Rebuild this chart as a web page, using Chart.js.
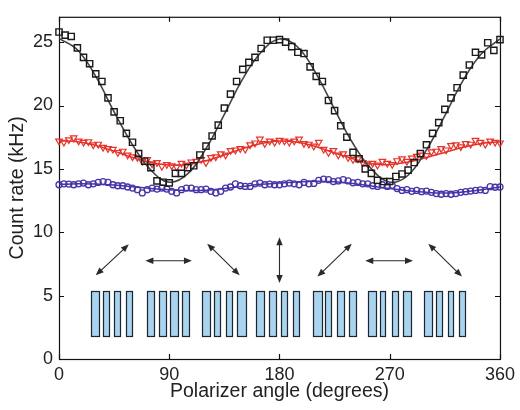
<!DOCTYPE html>
<html>
<head>
<meta charset="utf-8">
<title>Count rate vs polarizer angle</title>
<script src="https://cdn.jsdelivr.net/npm/chart.js@4.4.0/dist/chart.umd.min.js"></script>
<style>
  html, body { margin: 0; padding: 0; background: #fff; }
</style>
</head>
<body>
<canvas id="chart" width="520" height="410"></canvas>
<script>
// measured count rates, squares every 5 degrees
const blackAngles = [0, 5, 10, 15, 20, 25, 30, 35, 40, 45, 50, 55, 60, 65, 70, 75, 80, 85, 90,
  95, 100, 105, 110, 115, 120, 125, 130, 135, 140, 145, 150, 155, 160, 165, 170, 175, 180,
  185, 190, 195, 200, 205, 210, 215, 220, 225, 230, 235, 240, 245, 250, 255, 260, 265, 270,
  275, 280, 285, 290, 295, 300, 305, 310, 315, 320, 325, 330, 335, 340, 345, 350, 355, 360];
const blackRate = [25.8, 25.55, 25.45, 24.55, 23.8, 23.3, 22.5, 21.9, 20.6, 19.5, 18.8, 17.8, 17.1, 16.2, 15.6, 15.1, 14.05, 13.95, 13.9,
  14.65, 14.65, 15.1, 15.25, 16.1, 16.8, 17.6, 18.45, 19.8, 20.9, 21.9, 22.85, 23.4, 23.8, 24.5, 25.15, 25.15, 25.2,
  25.0, 24.65, 24.2, 24.1, 23.05, 22.3, 21.9, 20.4, 19.6, 18.4, 17.5, 16.3, 15.8, 15.0, 14.65, 14.1, 14.0, 14.0,
  14.4, 14.6, 14.9, 15.5, 16.2, 16.9, 17.8, 18.65, 19.7, 20.6, 21.4, 22.4, 23.2, 24.2, 24.0, 24.95, 24.35, 25.2];

// triangles and circles every 4 degrees
const fineAngles = [0, 4, 8, 12, 16, 20, 24, 28, 32, 36, 40, 44, 48, 52, 56, 60, 64, 68, 72, 76, 80, 84, 88,
  92, 96, 100, 104, 108, 112, 116, 120, 124, 128, 132, 136, 140, 144, 148, 152, 156, 160, 164, 168, 172, 176,
  180, 184, 188, 192, 196, 200, 204, 208, 212, 216, 220, 224, 228, 232, 236, 240, 244, 248, 252, 256, 260, 264, 268,
  272, 276, 280, 284, 288, 292, 296, 300, 304, 308, 312, 316, 320, 324, 328, 332, 336, 340, 344, 348, 352, 356, 360];
const redRate = [17.2, 17.1, 17.3, 17.45, 17.2, 17.1, 17.15, 16.9, 16.95, 16.7, 16.6, 16.55, 16.3, 16.4, 16.1, 15.95, 15.9, 15.6, 15.75, 15.4, 15.5, 15.2, 15.35,
  15.25, 15.15, 15.45, 15.3, 15.55, 15.6, 15.75, 15.5, 15.9, 15.95, 16.2, 16.1, 16.45, 16.5, 16.6, 16.55, 16.9, 17.05, 17.35, 17.0, 17.2, 17.1,
  17.25, 17.2, 17.1, 17.2, 17.35, 17.0, 16.95, 16.8, 17.1, 16.55, 16.3, 16.45, 16.1, 16.2, 15.9, 15.75, 15.8, 15.5, 15.4, 15.45, 15.3, 15.6, 15.45,
  15.35, 15.65, 15.8, 15.6, 15.85, 16.0, 16.1, 16.05, 16.35, 16.4, 16.6, 16.5, 16.85, 16.9, 16.75, 17.0, 16.95, 17.25, 17.1, 16.95, 17.2, 17.1, 17.05];
const blueRate = [13.75, 13.82, 13.8, 13.75, 13.82, 13.88, 13.75, 13.82, 13.93, 14.0, 13.93, 13.75, 13.67, 13.67, 13.57, 13.49, 13.36, 13.1, 13.36, 13.49, 13.41, 13.49, 13.41,
  13.23, 13.1, 13.36, 13.49, 13.49, 13.36, 13.36, 13.41, 13.23, 13.1, 13.23, 13.49, 13.57, 13.82, 13.67, 13.62, 13.62, 13.82, 13.88, 13.75, 13.8, 13.75,
  13.75, 13.82, 13.88, 13.82, 13.75, 13.93, 13.82, 13.85, 14.1, 14.2, 14.15, 14.0, 14.05, 14.15, 14.05, 13.9, 13.93, 13.82, 13.82, 13.67, 13.62, 13.75, 13.62,
  13.7, 13.45, 13.3, 13.36, 13.23, 13.3, 13.2, 13.25, 13.15, 13.05, 13.0, 13.05, 13.0, 13.05, 13.15, 13.2, 13.25, 13.3, 13.35, 13.3, 13.6, 13.55, 13.57];

// fitted curves, sampled every 15 degrees
const fitAngles = [0, 15, 30, 45, 60, 75, 90, 105, 120, 135, 150, 165, 180, 195, 210, 225, 240, 255, 270, 285, 300, 315, 330, 345, 360];
const blackFit = [25.3, 24.4, 22.3, 19.5, 16.9, 14.9, 13.95, 14.6, 16.6, 19.3, 22.1, 24.2, 25.25, 24.6, 22.5, 19.7, 17.0, 15.0, 13.95, 14.5, 16.5, 19.2, 22.0, 24.1, 25.25];
const redFit = [17.2, 17.15, 16.85, 16.4, 15.9, 15.5, 15.3, 15.35, 15.65, 16.1, 16.6, 17.0, 17.2, 17.1, 16.75, 16.25, 15.8, 15.4, 15.35, 15.55, 15.9, 16.3, 16.7, 17.0, 17.15];
const blueFit = [13.78, 13.82, 13.8, 13.72, 13.6, 13.45, 13.35, 13.3, 13.32, 13.45, 13.62, 13.78, 13.88, 13.97, 14.02, 13.98, 13.85, 13.65, 13.45, 13.28, 13.15, 13.1, 13.18, 13.35, 13.58];

const xTicks = [0, 90, 180, 270, 360];
const yTicks = [0, 5, 10, 15, 20, 25];

// polarisation arrows: from / to (degrees, kHz)
const arrowFrom = [[30, 6.6], [70.5, 7.75], [121, 9.1], [180, 9.6], [211, 6.5], [250, 7.75], [301.5, 9.1]];
const arrowTo = [[57, 9.05], [108.5, 7.75], [147.5, 6.6], [180, 6.0], [239, 9.1], [289, 7.75], [329, 6.5]];

// plate stacks under each arrow: [left, right] in degrees, all from 1.8 to 5.4
const plateBottom = 1.8, plateTop = 5.4;
const plates = [
  [25.8, 32.8], [35.6, 40.7], [44.5, 50.2], [54.3, 59.7],
  [71.9, 77.4], [81.7, 87.1], [91.0, 96.9], [100.7, 106.1],
  [117.0, 123.5], [126.2, 131.1], [136.0, 141.4], [145.2, 152.3],
  [161.2, 167.2], [171.3, 177.3], [181.4, 185.9], [190.8, 196.3],
  [207.7, 214.7], [217.2, 222.1], [227.0, 232.9], [236.4, 242.4],
  [251.9, 258.7], [262.0, 266.3], [271.7, 276.6], [280.9, 287.2],
  [298.0, 304.8], [307.6, 312.5], [317.6, 321.9], [326.5, 331.4]
];

const pts = (xs, ys) => xs.map((x, i) => ({ x: x, y: ys[i] }));

const BLACK = '#1a1a1a';
const RED = '#e5332a';
const BLUE = '#4535a8';

function drawArrow(ctx, x1, y1, x2, y2) {
  const ang = Math.atan2(y2 - y1, x2 - x1);
  const len = 8, half = 3.2;
  ctx.beginPath();
  ctx.moveTo(x1 + Math.cos(ang) * 4, y1 + Math.sin(ang) * 4);
  ctx.lineTo(x2 - Math.cos(ang) * 4, y2 - Math.sin(ang) * 4);
  ctx.stroke();
  [[x2, y2, ang], [x1, y1, ang + Math.PI]].forEach(([hx, hy, a]) => {
    ctx.beginPath();
    ctx.moveTo(hx, hy);
    ctx.lineTo(hx - Math.cos(a) * len - Math.sin(a) * half, hy - Math.sin(a) * len + Math.cos(a) * half);
    ctx.lineTo(hx - Math.cos(a) * len + Math.sin(a) * half, hy - Math.sin(a) * len - Math.cos(a) * half);
    ctx.closePath();
    ctx.fill();
  });
}

// arrows and plate stacks inside the plot
const sketch = {
  id: 'sketch',
  beforeDatasetsDraw(chart) {
    const { ctx, scales: { x, y } } = chart;
    ctx.save();
    ctx.fillStyle = '#a9d3ee';
    ctx.strokeStyle = '#1c2430';
    ctx.lineWidth = 1.2;
    const yt = Math.round(y.getPixelForValue(plateTop)) + 0.5;
    const yb = Math.round(y.getPixelForValue(plateBottom)) + 0.5;
    plates.forEach(([l, r]) => {
      const xl = Math.round(x.getPixelForValue(l)) + 0.5;
      const xr = Math.round(x.getPixelForValue(r)) + 0.5;
      ctx.fillRect(xl, yt, xr - xl, yb - yt);
      ctx.strokeRect(xl, yt, xr - xl, yb - yt);
    });
    ctx.strokeStyle = '#2a2a2a';
    ctx.fillStyle = '#2a2a2a';
    ctx.lineWidth = 1.1;
    arrowFrom.forEach((f, i) => {
      const t = arrowTo[i];
      drawArrow(ctx, x.getPixelForValue(f[0]), y.getPixelForValue(f[1]),
        x.getPixelForValue(t[0]), y.getPixelForValue(t[1]));
    });
    ctx.restore();
  }
};

// box frame with inward ticks on all four sides
const frame = {
  id: 'frame',
  beforeDatasetsDraw(chart) {
    const { ctx, chartArea: a, scales: { x, y } } = chart;
    ctx.save();
    ctx.strokeStyle = '#111';
    ctx.lineWidth = 1.2;
    ctx.strokeRect(a.left + 0.5, a.top + 0.5, a.right - a.left, a.bottom - a.top);
    ctx.beginPath();
    xTicks.forEach(v => {
      const px = Math.round(x.getPixelForValue(v)) + 0.5;
      ctx.moveTo(px, a.bottom); ctx.lineTo(px, a.bottom - 5);
      ctx.moveTo(px, a.top); ctx.lineTo(px, a.top + 5);
    });
    yTicks.forEach(v => {
      const py = Math.round(y.getPixelForValue(v)) + 0.5;
      ctx.moveTo(a.left, py); ctx.lineTo(a.left + 5, py);
      ctx.moveTo(a.right, py); ctx.lineTo(a.right - 5, py);
    });
    ctx.stroke();
    ctx.restore();
  }
};

new Chart(document.getElementById('chart'), {
  type: 'line',
  data: {
    datasets: [
      { data: pts(blackAngles, blackRate), showLine: false, pointStyle: 'rect', pointRadius: 4.4, clip: false,
        borderColor: BLACK, borderWidth: 1.4, backgroundColor: 'rgba(255,255,255,0)', order: 1 },
      { data: pts(fitAngles, blackFit), borderColor: '#444', borderWidth: 1.6, pointRadius: 0, tension: 0.4, order: 2 },
      { data: pts(fineAngles, redRate), showLine: false, pointStyle: 'triangle', pointRotation: 180, pointRadius: 3.8, clip: false,
        borderColor: RED, borderWidth: 1.2, backgroundColor: 'rgba(255,255,255,0)', order: 3 },
      { data: pts(fitAngles, redFit), borderColor: RED, borderWidth: 1.5, pointRadius: 0, tension: 0.4, order: 4 },
      { data: pts(fineAngles, blueRate), showLine: false, pointStyle: 'circle', pointRadius: 3, clip: false,
        borderColor: BLUE, borderWidth: 1.3, backgroundColor: 'rgba(255,255,255,0)', order: 5 },
      { data: pts(fitAngles, blueFit), borderColor: BLUE, borderWidth: 1.5, pointRadius: 0, tension: 0.4, order: 6 }
    ]
  },
  options: {
    responsive: false,
    animation: false,
    layout: { padding: { top: 11, right: 19, left: 0, bottom: 0 } },
    plugins: { legend: { display: false }, tooltip: { enabled: false } },
    scales: {
      x: {
        type: 'linear', min: 0, max: 360,
        afterBuildTicks: s => { s.ticks = xTicks.map(v => ({ value: v })); },
        ticks: { font: { family: 'Liberation Sans, Arial, sans-serif', size: 18 }, color: '#222', padding: 5, maxRotation: 0 },
        grid: { display: false, drawTicks: false },
        border: { display: false },
        title: { display: true, text: 'Polarizer angle (degrees)', color: '#222',
          font: { family: 'Liberation Sans, Arial, sans-serif', size: 19.5 }, padding: { top: 0, bottom: 7 } },
        afterFit: s => { s.height = 51; }
      },
      y: {
        min: 0, max: 27,
        afterBuildTicks: s => { s.ticks = yTicks.map(v => ({ value: v })); },
        ticks: { font: { family: 'Liberation Sans, Arial, sans-serif', size: 18 }, color: '#222', padding: 6 },
        grid: { display: false, drawTicks: false },
        border: { display: false },
        title: { display: true, text: 'Count rate (kHz)', color: '#222',
          font: { family: 'Liberation Sans, Arial, sans-serif', size: 19.5 }, padding: { top: 6, bottom: 0 } },
        afterFit: s => { s.width = 59; }
      }
    }
  },
  plugins: [sketch, frame]
});
</script>
</body>
</html>
